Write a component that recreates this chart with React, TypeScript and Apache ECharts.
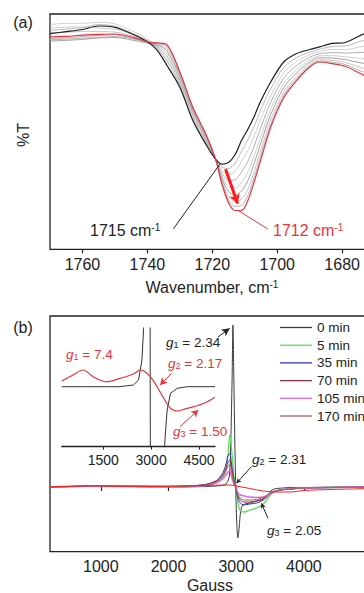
import React, { useEffect, useRef } from 'react';
import * as echarts from 'echarts';

const FONT = '"Liberation Sans", Arial, Helvetica, sans-serif';

// ---------- Panel (a): IR spectra (%T vs wavenumber) ----------
const irWavenumber = [1770, 1765, 1760, 1755, 1750, 1745, 1740, 1737, 1734, 1730, 1726, 1722, 1719, 1717, 1715, 1713, 1711, 1709, 1707, 1705, 1702, 1698, 1694, 1690, 1687, 1683, 1679, 1673, 1666, 1660];
const irStart = [91.7, 92.5, 93.4, 94.9, 94.3, 91.7, 88.2, 84.6, 78.2, 68.9, 54.7, 44.7, 38.3, 36.2, 36.9, 40.2, 46.2, 51.1, 56.8, 63.2, 71.1, 79.6, 83.2, 84.9, 86.0, 87.5, 87.9, 91.7, 93.5, 94.5];
const irEnd = [90.3, 90.5, 91.0, 91.3, 91.5, 90.3, 88.2, 87.7, 87.0, 75.4, 60.4, 49.0, 38.3, 27.6, 19.8, 16.5, 16.5, 20.8, 29.1, 38.3, 51.9, 64.4, 71.8, 77.5, 79.6, 78.9, 77.8, 73.9, 71.8, 70.4];
const irMid1 = [93.0, 93.6, 94.2, 95.5, 94.8, 92.0, 88.8, 85.5, 80.0, 70.0, 55.6, 45.4, 38.3, 34.9, 34.3, 36.6, 41.7, 46.6, 52.6, 59.5, 68.2, 77.3, 81.5, 83.8, 85.0, 86.2, 86.4, 89.0, 90.2, 90.9];
const irMid2 = [95.5, 96.0, 96.0, 96.5, 95.8, 93.0, 89.5, 85.6, 80.8, 70.9, 56.4, 46.0, 38.3, 33.6, 31.8, 33.1, 37.3, 42.0, 48.5, 55.7, 65.3, 75.0, 79.8, 82.7, 84.1, 84.9, 84.9, 86.4, 87.0, 87.3];
const irMid3 = [89.5, 89.9, 90.4, 90.9, 91.2, 89.8, 88.0, 86.0, 82.2, 71.8, 57.3, 46.6, 38.3, 32.3, 29.2, 29.5, 32.8, 37.5, 44.3, 52.0, 62.5, 72.8, 78.1, 81.6, 83.1, 83.6, 83.4, 83.7, 83.7, 83.7];
const irMid4 = [94.0, 94.4, 94.5, 94.0, 93.5, 91.5, 88.6, 86.5, 83.5, 72.8, 58.1, 47.3, 38.3, 31.0, 26.6, 26.0, 28.4, 33.0, 40.2, 48.2, 59.6, 70.5, 76.4, 80.5, 82.2, 82.3, 81.8, 81.0, 80.5, 80.0];
const irMid5 = [88.5, 88.8, 89.2, 89.8, 90.0, 89.0, 87.6, 86.8, 84.5, 73.6, 58.8, 47.8, 38.3, 30.0, 24.6, 23.1, 24.8, 29.3, 36.9, 45.3, 57.3, 68.7, 75.0, 79.6, 81.4, 81.3, 80.6, 78.9, 77.9, 77.2];
const irMid6 = [92.0, 92.2, 92.6, 92.5, 92.3, 90.8, 88.5, 87.2, 85.6, 74.4, 59.5, 48.3, 38.3, 29.0, 22.5, 20.3, 21.3, 25.7, 33.5, 42.3, 55.0, 66.8, 73.6, 78.7, 80.6, 80.3, 79.4, 76.7, 75.3, 74.3];
const irMid7 = [89.0, 89.3, 89.7, 90.1, 90.4, 89.6, 88.0, 87.4, 86.4, 75.0, 60.0, 48.7, 38.3, 28.2, 21.0, 18.2, 18.6, 23.0, 31.0, 40.0, 53.0, 65.5, 72.6, 78.0, 80.0, 79.5, 78.5, 75.1, 73.3, 72.0];
const irTicks = [1760, 1740, 1720, 1700, 1680];

// ---------- Panel (b): EPR spectra ----------
const eprTicks = [1000, 2000, 3000, 4000];
const blackGauss = [250, 600, 1000, 1400, 1800, 2200, 2500, 2700, 2850, 2900, 2920, 2940, 2952, 2965, 2980, 2993, 3008, 3025, 3045, 3065, 3100, 3200, 3300, 3400, 3470, 3530, 3600, 3700, 3800, 4000, 4500, 5000];
const min0 = [0, 0.5, 1.5, 0.5, 0, 0, 0.5, 1, 3, 12, 45, 110, 162, 110, 45, 0, -35, -51, -40, -25, -18, -16, -14, -12, -8, -3, -1.5, -1, -0.5, -0.5, 0, 0];
const eprGauss = [250, 1000, 2000, 2500, 2700, 2800, 2850, 2880, 2905, 2930, 2960, 2993, 3020, 3060, 3120, 3200, 3300, 3400, 3480, 3550, 3650, 3800, 4000, 5000];
const min5 = [0, 1, 0.5, 1.5, 4, 10, 18, 32, 52, 40, 15, 0, -14, -24, -25, -23, -21, -17, -10, -5, -3, -2, -1, 0];
const min35 = [0, 1, 0.5, 2, 6, 14, 23, 32, 33, 24, 9, 0, -10, -16, -18, -17, -16, -13, -8, -5, -3, -2, -1, 0];
const min70 = [0, 1, 0.5, 2, 6, 12, 19, 25, 27, 20, 8, 0, -8, -13, -15, -15, -14, -12, -8, -5, -3, -2, -1, 0];
const min105 = [0, 1, 0.5, 1, 4, 8, 12, 15, 16, 11, 4, 0, -5, -8, -9, -10, -10.5, -10, -8, -5, -3, -1.5, -1, 0];
const min170 = [0, 1, 0.5, 1.5, 5, 10, 16, 21, 22, 16, 6, 0, -7, -11, -13, -13, -12.5, -10.5, -7, -4.5, -3, -2, -1, 0];
const redGauss = [250, 600, 870, 1300, 2000, 2700, 2900, 3000, 3200, 3400, 3600, 3800, 4000, 4400, 5000];
const redMain = [0.3, 0.8, 1.2, 0.3, 0.8, 1.8, 2, 1, -1.5, -4, -5, -5, -3.5, -2.5, -1.5];

// inset
const insetTicks = [1500, 3000, 4500];
const insetRedGauss = [200, 553, 868, 1184, 1449, 1607, 2027, 2447, 2659, 2763, 2975, 3186, 3395, 3606, 3818, 4026, 4342, 4658, 5000];
const insetRed = [65.7, 71.7, 76.7, 70, 66, 65, 68.4, 72.7, 76.7, 76, 70, 60, 48.4, 38.4, 35.7, 37.4, 40, 43.4, 49.4];
const insetBlackGauss = [200, 1000, 2000, 2447, 2606, 2712, 2763, 2800, 2900, 2960, 2975, 2990, 3100, 3300, 3400, 3440, 3502, 3606, 3818, 4134, 5000];
const insetBlack = [60, 60, 60, 61.7, 66.7, 86.7, 117, 200, 400, 300, 0, -300, -400, -100, -10, 10, 36.7, 53.4, 58.4, 60, 60];

const legendNames = ['0 min', '5 min', '35 min', '70 min', '105 min', '170 min'];
const legendColors = ['#3c3c3c', '#55dd55', '#3535c8', '#8a3040', '#dd66dd', '#a86058'];

const RED = '#e8333c';
const INK = '#222';

const pairs = (xs: number[], ys: number[]) => xs.map((x, i) => [x, ys[i]]);

const line = (name: string, xs: number[], ys: number[], color: string, width: number, grid: number, smooth: number | boolean, extra: any = {}) => ({
  type: 'line',
  name,
  xAxisIndex: grid,
  yAxisIndex: grid,
  data: pairs(xs, ys),
  showSymbol: false,
  symbol: 'none',
  smooth,
  silent: true,
  animation: false,
  lineStyle: { color, width },
  itemStyle: { color },
  ...extra,
});

const seg = (a: number[], b: number[], color: string, width: number, arrow: boolean, size: number[] = [6, 8]) => [
  { coord: a, symbol: 'none', lineStyle: { color, width, type: 'solid' } },
  { coord: b, symbol: arrow ? 'arrow' : 'none', symbolSize: size },
];

const markLine = (data: any[]) => ({
  silent: true,
  animation: false,
  label: { show: false },
  symbol: ['none', 'arrow'],
  data,
});

const gLabel = (x: number, y: number, sub: string, rest: string, color: string) => ({
  type: 'text',
  x,
  y,
  style: {
    text: `{g|g}{s|${sub}}{m|${rest}}`,
    align: 'left',
    verticalAlign: 'middle',
    rich: {
      g: { fontFamily: FONT, fontSize: 13.5, fontStyle: 'italic', fill: color },
      s: { fontFamily: FONT, fontSize: 9, fill: color, verticalAlign: 'bottom' },
      m: { fontFamily: FONT, fontSize: 13.5, fill: color },
    },
  },
});

const supLabel = (x: number, y: number, main: string, sup: string, color: string, align = 'left') => ({
  type: 'text',
  x,
  y,
  style: {
    text: `{m|${main}}{p|${sup}}`,
    align,
    verticalAlign: 'middle',
    rich: {
      m: { fontFamily: FONT, fontSize: 16, fill: color },
      p: { fontFamily: FONT, fontSize: 10, fill: color, verticalAlign: 'top' },
    },
  },
});

const plain = (x: number, y: number, text: string, size: number, extra: any = {}) => ({
  type: 'text',
  x,
  y,
  style: { text, fontFamily: FONT, fontSize: size, fill: INK, align: 'center', verticalAlign: 'middle' },
  ...extra,
});

const fmt = (v: number) => String(v);

const valueAxis = (grid: number, min: number, max: number, ticks: number[], extra: any = {}) => ({
  type: 'value',
  gridIndex: grid,
  min,
  max,
  splitLine: { show: false },
  axisLine: { show: false },
  axisTick: { show: true, inside: false, length: 4, customValues: ticks, lineStyle: { color: INK, width: 1.2 } },
  axisLabel: { show: true, customValues: ticks, formatter: fmt, fontFamily: FONT, fontSize: 16, color: INK, margin: 7 },
  ...extra,
});

const grays = [irMid1, irMid2, irMid3, irMid4, irMid5, irMid6, irMid7];
const grayColors = ['#a8a8a8', '#c4c4c4', '#9a9a9a', '#c0c0c0', '#8c8c8c', '#b8b8b8', '#a0a0a0'];

const option: any = {
  animation: false,
  backgroundColor: '#ffffff',
  grid: [
    { left: 50, top: 14, width: 324.6, height: 235.3, show: true, borderColor: INK, borderWidth: 1.3, backgroundColor: 'transparent' },
    { left: 50, top: 316, width: 321.6, height: 235.7, show: true, borderColor: INK, borderWidth: 1.3, backgroundColor: 'transparent' },
    { left: 61.7, top: 328, width: 153.3, height: 118.7, show: false },
  ],
  xAxis: [
    valueAxis(0, 1670, 1770, irTicks, { inverse: true }),
    valueAxis(1, 250, 5000, eprTicks),
    valueAxis(2, 200, 5000, insetTicks, {
      axisLine: { show: true, lineStyle: { color: INK, width: 1.3 } },
      axisTick: { show: true, inside: false, length: 3, customValues: insetTicks, lineStyle: { color: INK, width: 1 } },
      axisLabel: { show: true, customValues: insetTicks, formatter: fmt, fontFamily: FONT, fontSize: 14, color: INK, margin: 6 },
    }),
  ],
  yAxis: [
    { type: 'value', gridIndex: 0, min: 0, max: 100, show: false },
    { type: 'value', gridIndex: 1, min: -64.7, max: 171, show: false },
    { type: 'value', gridIndex: 2, min: 0, max: 118.7, show: false },
  ],
  legend: {
    data: legendNames.map((n) => ({ name: n, icon: 'rect' })),
    orient: 'vertical',
    left: 280,
    top: 320.5,
    padding: 0,
    itemWidth: 32,
    itemHeight: 1.3,
    itemGap: 3.7,
    selectedMode: false,
    textStyle: { fontFamily: FONT, fontSize: 13.5, color: INK, lineHeight: 14 },
  },
  series: [
    ...grays.map((g, i) => line(`ir${i + 1}`, irWavenumber, g, grayColors[i], 0.8, 0, 0.3)),
    line('ir0', irWavenumber, irStart, '#1e1e1e', 1.2, 0, 0.3),
    line('irEnd', irWavenumber, irEnd, RED, 1.2, 0, 0.3, {
      markLine: markLine([
        seg([1732, 8.7], [1717.5, 36.5], INK, 1, false),
        seg([1711.8, 16.3], [1703, 8.7], RED, 1, false),
        seg([1715.9, 34], [1712.2, 19.5], '#ff1a1a', 3, true, [8, 9]),
      ]),
    }),
    line(legendNames[0], blackGauss, min0, legendColors[0], 1, 1, 0.3),
    line(legendNames[1], eprGauss, min5, legendColors[1], 1.3, 1, 0.3),
    line(legendNames[2], eprGauss, min35, legendColors[2], 1, 1, 0.3),
    line(legendNames[3], eprGauss, min70, legendColors[3], 1, 1, 0.3),
    line(legendNames[4], eprGauss, min105, legendColors[4], 1.5, 1, 0.3),
    line(legendNames[5], eprGauss, min170, legendColors[5], 1, 1, 0.3),
    line('ref', redGauss, redMain, '#ee2222', 1, 1, 0.3, {
      markLine: markLine([
        seg([2731, 150], [2904, 158.7], INK, 1, true, [6, 8]),
        seg([3224, 20.3], [3003, 3.7], INK, 1, true, [4, 5]),
        seg([3469, -31.3], [3372, -16.3], INK, 1, true, [4, 5]),
      ]),
    }),
    line('insetBlack', insetBlackGauss, insetBlack, '#333333', 1, 2, false),
    line('insetRed', insetRedGauss, insetRed, RED, 1.2, 2, 0.35, {
      markLine: markLine([
        seg([3644, 73.4], [3280, 61.7], RED, 1, true, [6, 7]),
        seg([3904, 20], [4477, 36.7], RED, 1, true, [6, 7]),
      ]),
    }),
  ],
  graphic: [
    plain(23, 22.5, '(a)', 16),
    plain(23, 327.5, '(b)', 16),
    plain(23, 135, '%T', 16, { rotation: Math.PI / 2 }),
    supLabel(212, 287, 'Wavenumber, cm', '-1', INK, 'center'),
    plain(210, 585, 'Gauss', 16),
    supLabel(90, 230, '1715 cm', '-1', INK),
    supLabel(273, 230, '1712 cm', '-1', RED),
    gLabel(166, 342.5, '1', ' = 2.34', INK),
    gLabel(66, 354, '1', ' = 7.4', RED),
    gLabel(168, 363, '2', ' = 2.17', RED),
    gLabel(173, 431, '3', ' = 1.50', RED),
    gLabel(252, 459, '2', ' = 2.31', INK),
    gLabel(267, 530, '3', ' = 2.05', INK),
  ],
};

export default function App() {
  const ref = useRef<HTMLDivElement>(null);
  useEffect(() => {
    if (!ref.current) return;
    const chart = echarts.init(ref.current, null, { renderer: 'svg' });
    chart.setOption(option);
    return () => chart.dispose();
  }, []);
  return (
    <div style={{ position: 'fixed', left: 0, top: 0, width: 364, height: 593, overflow: 'hidden', background: '#fff' }}>
      <div ref={ref} style={{ width: 400, height: 593 }} />
    </div>
  );
}
